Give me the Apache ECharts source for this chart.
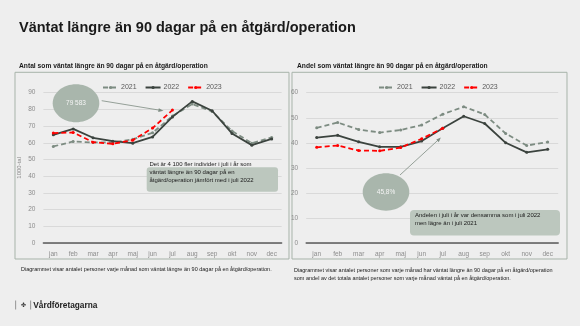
<!DOCTYPE html>
<html>
<head>
<meta charset="utf-8">
<script src="https://cdn.jsdelivr.net/npm/echarts@6/dist/echarts.min.js"></script>
<style>
  html, body { margin: 0; padding: 0; background: #eeeeee; }
  #chart { width: 580px; height: 326px; }
</style>
</head>
<body>
<div id="chart"></div>
<script>
// Months shown on both x axes
const months = ['jan', 'feb', 'mar', 'apr', 'maj', 'jun', 'jul', 'aug', 'sep', 'okt', 'nov', 'dec'];

// Antal (1000-tal) som väntat längre än 90 dagar
const antal2021 = [57.8, 60.8, 60.2, 60.2, 62.1, 66.0, 76.0, 83.2, 78.8, 67.1, 59.8, 63.2];
const antal2022 = [64.8, 68.3, 63.0, 61.0, 59.8, 63.5, 75.5, 84.8, 79.2, 65.6, 58.6, 62.3];
const antal2023 = [65.8, 66.2, 60.4, 59.4, 61.6, 68.8, 79.583];

// Andel (%) som väntat längre än 90 dagar
const andel2021 = [46.0, 48.1, 45.3, 44.1, 45.1, 47.1, 51.4, 54.4, 51.3, 43.7, 38.9, 40.3];
const andel2022 = [42.1, 43.0, 40.4, 38.4, 38.4, 40.7, 45.8, 50.6, 47.7, 40.0, 36.2, 37.4];
const andel2023 = [38.2, 38.9, 36.9, 36.8, 38.1, 41.6, 45.8];

const antalTicks = { min: 0, max: 90, interval: 10 };
const andelTicks = { min: 0, max: 60, interval: 10 };

const FONT = '"Liberation Sans", Arial, sans-serif';
const C21 = '#7d8c82';
const C22 = '#3b433e';
const C23 = '#ff0000';
const SAGE = '#a9b6ac';
const BOX = '#bcc7be';

// Highlighted July 2023 values
const julAntal = antal2023[6];
const julAndel = andel2023[6];
const julAntalText = Math.round(julAntal * 1000).toLocaleString('sv-SE').replace(/\u00a0/g, ' ');
const julAndelText = julAndel.toFixed(1).replace('.', ',') + '%';

function lineSeries(name, data, color, dashed, axisIndex) {
  return {
    name: name,
    type: 'line',
    xAxisIndex: axisIndex,
    yAxisIndex: axisIndex,
    data: data,
    symbol: 'circle',
    symbolSize: 3,
    showSymbol: true,
    itemStyle: { color: color },
    lineStyle: { color: color, width: 1.8, type: dashed ? [5, 3] : 'solid' },
    emphasis: { disabled: true },
    animation: false,
    z: name === '2023' ? 4 : (name === '2022' ? 3 : 2)
  };
}

function xAxis(gridIndex) {
  return {
    type: 'category',
    gridIndex: gridIndex,
    data: months,
    boundaryGap: true,
    axisLine: { lineStyle: { color: '#595959', width: 1.5 } },
    axisTick: { show: false },
    axisLabel: { color: '#8c8c8c', fontSize: 6.5, fontFamily: FONT, margin: 8 }
  };
}

function yAxis(gridIndex, ticks, name) {
  return {
    type: 'value',
    gridIndex: gridIndex,
    min: ticks.min,
    max: ticks.max,
    interval: ticks.interval,
    name: name,
    nameLocation: 'middle',
    nameGap: 21,
    nameRotate: 90,
    nameTextStyle: { color: '#8c8c8c', fontSize: 6, fontFamily: FONT },
    axisLine: { show: false },
    axisTick: { show: false },
    splitLine: { lineStyle: { color: '#d9d9d9', width: 1 } },
    axisLabel: { color: '#8c8c8c', fontSize: 6.5, fontFamily: FONT, margin: 8 }
  };
}

function legend(left) {
  return {
    data: ['2021', '2022', '2023'],
    left: left,
    top: 79,
    itemWidth: 15,
    itemHeight: 4,
    itemGap: 8,
    textStyle: { color: '#595959', fontSize: 7, fontFamily: FONT, padding: [0, 0, 0, -2] },
    selectedMode: false
  };
}

const chart = echarts.init(document.getElementById('chart'), null, { renderer: 'canvas' });

chart.setOption({
  backgroundColor: '#eeeeee',
  animation: false,
  legend: [legend(97), legend(373)],
  grid: [
    { left: 43.4, right: 298.4, top: 92.7, bottom: 83, containLabel: false },
    { left: 306.2, right: 21.8, top: 92.7, bottom: 83, containLabel: false }
  ],
  xAxis: [xAxis(0), xAxis(1)],
  yAxis: [yAxis(0, antalTicks, '1000-tal'), yAxis(1, andelTicks, '')],
  series: [
    lineSeries('2021', antal2021, C21, true, 0),
    lineSeries('2022', antal2022, C22, false, 0),
    lineSeries('2023', antal2023, C23, true, 0),
    lineSeries('2021', andel2021, C21, true, 1),
    lineSeries('2022', andel2022, C22, false, 1),
    lineSeries('2023', andel2023, C23, true, 1)
  ],
  graphic: [
    // Panel frames
    { type: 'rect', z: -10, shape: { x: 15, y: 72.3, width: 274, height: 186.7 },
      style: { fill: 'none', stroke: '#a7b3a9', lineWidth: 1 } },
    { type: 'rect', z: -10, shape: { x: 292, y: 72.3, width: 275, height: 186.7 },
      style: { fill: 'none', stroke: '#a7b3a9', lineWidth: 1 } },

    // Headings
    { type: 'text', x: 19, y: 28, style: {
      text: 'Väntat längre än 90 dagar på en åtgärd/operation',
      font: 'bold 14.5px ' + FONT, fill: '#1a1a1a', textVerticalAlign: 'middle' } },
    { type: 'text', x: 19, y: 66, style: {
      text: 'Antal som väntat längre än 90 dagar på en åtgärd/operation',
      font: 'bold 6.7px ' + FONT, fill: '#1a1a1a', textVerticalAlign: 'middle' } },
    { type: 'text', x: 297, y: 66, style: {
      text: 'Andel som väntat längre än 90 dagar på en åtgärd/operation',
      font: 'bold 6.7px ' + FONT, fill: '#1a1a1a', textVerticalAlign: 'middle' } },

    // Footnotes
    { type: 'text', x: 21, y: 269.5, style: {
      text: 'Diagrammet visar antalet personer varje månad som väntat längre än 90 dagar på en åtgärd/operation.',
      font: '5.5px ' + FONT, fill: '#1a1a1a', textVerticalAlign: 'middle' } },
    { type: 'text', x: 294, y: 266, style: {
      text: 'Diagrammet visar antalet personer som varje månad har väntat längre än 90 dagar på en åtgärd/operation\nsom andel av det totala antalet personer som varje månad väntat på en åtgärd/operation.',
      font: '5.5px ' + FONT, fill: '#1a1a1a', textVerticalAlign: 'top', lineHeight: 8 } },

    // Left callout: July 2023 count
    { type: 'line', z: 50, shape: { x1: 101.7, y1: 100.7, x2: 161, y2: 110.4 },
      style: { stroke: '#7d8c82', lineWidth: 0.8 } },
    { type: 'polygon', z: 50, shape: { points: [[163.5, 110.8], [158.8, 108.3], [158.2, 111.9]] },
      style: { fill: '#7d8c82' } },
    { type: 'ellipse', z: 50, shape: { cx: 76, cy: 103.2, rx: 23.3, ry: 19 },
      style: { fill: SAGE } },
    { type: 'text', z: 51, x: 76, y: 103.2, style: {
      text: julAntalText, font: '6.5px ' + FONT, fill: '#f4f4f4',
      textAlign: 'center', textVerticalAlign: 'middle' } },
    { type: 'rect', z: 50, shape: { x: 146.7, y: 167.3, width: 131.3, height: 24.4, r: 3 },
      style: { fill: BOX } },
    { type: 'text', z: 51, x: 149.5, y: 172.5, style: {
      text: 'Det är 4 100 fler individer i juli i år som\nväntat längre än 90 dagar på en\nåtgärd/operation jämfört med i juli 2022',
      font: '6px ' + FONT, fill: '#1a1a1a', textVerticalAlign: 'middle', lineHeight: 7.8 } },

    // Right callout: July 2023 share
    { type: 'line', z: 50, shape: { x1: 400, y1: 175, x2: 438.8, y2: 139.4 },
      style: { stroke: '#7d8c82', lineWidth: 0.8 } },
    { type: 'polygon', z: 50, shape: { points: [[440.8, 137.5], [436.3, 139.6], [438.8, 142.2]] },
      style: { fill: '#7d8c82' } },
    { type: 'ellipse', z: 50, shape: { cx: 386, cy: 192, rx: 23.3, ry: 18.7 },
      style: { fill: SAGE } },
    { type: 'text', z: 51, x: 386, y: 192.5, style: {
      text: julAndelText, font: '6.5px ' + FONT, fill: '#f4f4f4',
      textAlign: 'center', textVerticalAlign: 'middle' } },
    { type: 'rect', z: 50, shape: { x: 410, y: 210, width: 150, height: 25.5, r: 4 },
      style: { fill: BOX } },
    { type: 'text', z: 51, x: 415, y: 219, style: {
      text: 'Andelen i juli i år var densamma som i juli 2022\nmen lägre än i juli 2021',
      font: '6px ' + FONT, fill: '#1a1a1a', textVerticalAlign: 'middle', lineHeight: 7.8 } },

    // Footer mark
    { type: 'rect', shape: { x: 15.3, y: 300.5, width: 0.8, height: 9 }, style: { fill: '#7f7f7f' } },
    { type: 'text', x: 23.5, y: 305.3, style: {
      text: '✤', font: 'bold 6px "DejaVu Sans", sans-serif', fill: '#333333',
      textAlign: 'center', textVerticalAlign: 'middle' } },
    { type: 'rect', shape: { x: 30.3, y: 300.5, width: 0.8, height: 9 }, style: { fill: '#7f7f7f' } },
    { type: 'text', x: 33.3, y: 305.3, style: {
      text: 'Vårdföretagarna', font: 'bold 8.3px ' + FONT, fill: '#222222',
      textVerticalAlign: 'middle' } }
  ]
});
</script>
</body>
</html>
